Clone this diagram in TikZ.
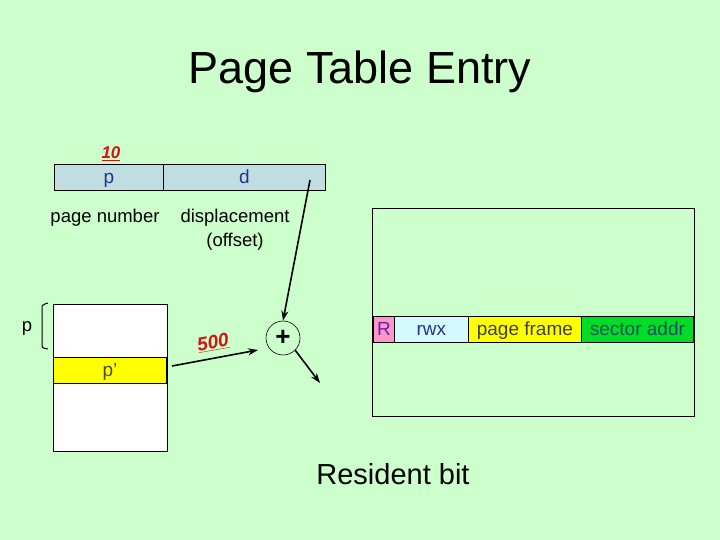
\documentclass[tikz,border=0pt]{standalone}
\usepackage{fontspec}
\setmainfont{Liberation Sans}
\usetikzlibrary{arrows.meta}
\definecolor{bg}{RGB}{204,255,204}
\definecolor{addrblue}{RGB}{192,222,226}
\definecolor{txtblue}{RGB}{40,50,140}
\definecolor{pinkc}{RGB}{255,150,200}
\definecolor{cyanc}{RGB}{210,250,255}
\definecolor{yel}{RGB}{255,255,0}
\definecolor{grn}{RGB}{0,220,40}
\definecolor{redt}{RGB}{210,20,20}
\definecolor{teal}{RGB}{20,80,90}
\tikzset{
  cell/.style={draw=black, line width=0.8pt, minimum height=26pt, inner sep=0pt, anchor=north west},
  celltxt/.style={font=\fontsize{19}{21}\selectfont, text height=15pt, text depth=2pt},
  lbl/.style={font=\fontsize{18.5}{24}\selectfont, inner sep=0pt},
  arr/.style={-{Stealth[length=10pt,width=7pt]}, line width=1.6pt},
  redn/.style={text=redt, inner sep=0pt}
}
\begin{document}
\begin{tikzpicture}[x=1pt,y=-1pt]
\fill[bg] (0,0) rectangle (720,540);
\useasboundingbox (0,0) rectangle (720,540);
% title
\node[font=\fontsize{45}{50}\selectfont, inner sep=0pt] (title) at (360,72) {Page Table Entry};
% address
\node[cell, celltxt, fill=addrblue, minimum width=109pt, text=txtblue] (p) at (54,164) {p};
\node[cell, celltxt, fill=addrblue, minimum width=162pt, text=txtblue] (d) at (163,164) {d};
\node[redn, font=\fontsize{17}{19}\selectfont\bfseries\itshape] (ten) at (111,154) {\underline{10}};
\node[lbl] (pn) at (105,218) {page number};
\node[lbl, align=center] (disp) at (235,230) {displacement\\(offset)};
% page table
\draw[line width=0.8pt, fill=white] (53,304) rectangle (167,451);
\node[cell, celltxt, fill=yel, minimum width=113pt, text=black!70] (pp) at (53,357) {p’};
\node[lbl] (plab) at (27,328) {p};
\draw[line width=1pt] (48,303) -- (45,304) .. controls (42,305) .. (42,310) -- (42,343) .. controls (42,348) .. (48,349);
% plus
\node[draw, circle, minimum size=34pt, inner sep=0pt, line width=0.6pt, font=\fontsize{26}{28}\selectfont\bfseries] (plus) at (283,338) {+};
\coordinate (dsrc) at (310,180);
\coordinate (out) at (320,383);
\draw[arr] (dsrc) -- (plus.north);
\draw[arr] (plus.south east) -- (out);
\coordinate (pstart) at (172,366);
\coordinate (pend) at (258,350);
\draw[arr] (pstart) -- (pend);
\node[redn, rotate=10, font=\fontsize{19}{21}\selectfont\bfseries\itshape] (five) at (213,343) {\underline{500}};
% memory box
\draw[line width=0.8pt] (372,208) rectangle (694,416);
\node[cell, celltxt, fill=pinkc, minimum width=21pt, text=txtblue!70!magenta] (R) at (373,316) {R};
\node[cell, celltxt, fill=cyanc, minimum width=74pt, text=txtblue] (rwx) at (394,316) {rwx};
\node[cell, celltxt, fill=yel, minimum width=113pt, text=black!75] (pf) at (468,316) {page frame};
\node[cell, celltxt, fill=grn, minimum width=112pt, text=teal] (sa) at (581,316) {sector addr};
\node[font=\fontsize{29}{32}\selectfont, inner sep=0pt] (rb) at (393,474) {Resident bit};
\end{tikzpicture}
\end{document}
